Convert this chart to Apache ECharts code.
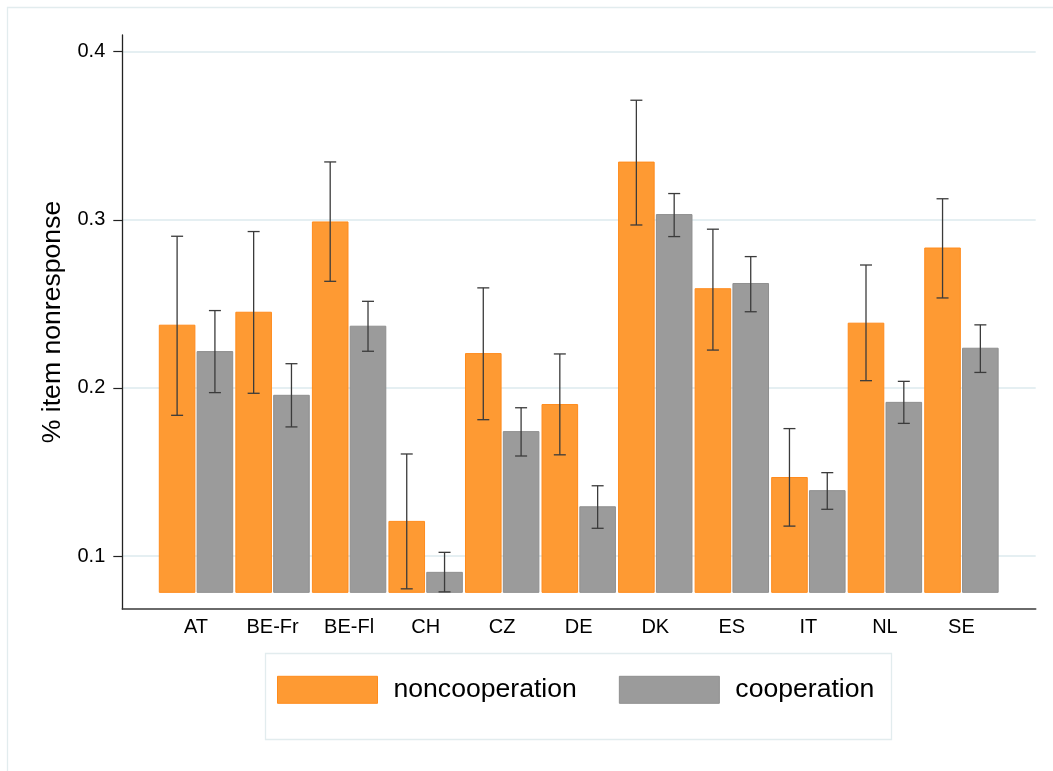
<!DOCTYPE html>
<html>
<head>
<meta charset="utf-8">
<title>Item nonresponse by country</title>
<script src="https://cdn.jsdelivr.net/npm/echarts@6/dist/echarts.min.js"></script>
<style>
  html, body { margin: 0; padding: 0; background: #fff; }
  #chart { width: 1053px; height: 771px; }
</style>
</head>
<body>
<div id="chart"></div>
<script>
// Country groups
const categories = ['AT', 'BE-Fr', 'BE-Fl', 'CH', 'CZ', 'DE', 'DK', 'ES', 'IT', 'NL', 'SE'];

// Share of item nonresponse, noncooperation group (mean, lower and upper CI)
const noncoopMean = [0.2373, 0.2450, 0.2987, 0.1206, 0.2204, 0.1901, 0.3343, 0.2590, 0.1467, 0.2385, 0.2832];
const noncoopLow  = [0.1837, 0.1968, 0.2634, 0.0805, 0.1811, 0.1602, 0.2969, 0.2225, 0.1178, 0.2043, 0.2535];
const noncoopHigh = [0.2902, 0.2930, 0.3344, 0.1607, 0.2595, 0.2202, 0.3711, 0.2944, 0.1758, 0.2731, 0.3125];

// Share of item nonresponse, cooperation group (mean, lower and upper CI)
const coopMean = [0.2216, 0.1956, 0.2367, 0.0903, 0.1740, 0.1293, 0.3031, 0.2621, 0.1389, 0.1914, 0.2236];
const coopLow  = [0.1972, 0.1768, 0.2218, 0.0787, 0.1595, 0.1165, 0.2900, 0.2453, 0.1278, 0.1789, 0.2092];
const coopHigh = [0.2460, 0.2144, 0.2515, 0.1022, 0.1882, 0.1418, 0.3156, 0.2781, 0.1496, 0.2039, 0.2375];

// Value axis ticks
const yTicks = [0.1, 0.2, 0.3, 0.4];

// Layout constants
const Y_MIN = 0.0685, Y_MAX = 0.4099, BAR_BASE = 0.0784;
const X_MIN = -0.963, X_MAX = 10.97;
const BAR_OFFSET = 0.247, BAR_WIDTH = 0.465, CAP_HALF = 6;
const FONT = '"Liberation Sans", Arial, Helvetica, sans-serif';

const ORANGE = { fill: '#fe9a33', stroke: '#ff8b1c' };
const GRAY = { fill: '#9b9b9b', stroke: '#8f8f8f' };

function rows(mean, low, high) {
  return categories.map((c, i) => [i, mean[i], low[i], high[i]]);
}

function barWithError(offset, colors) {
  return function (params, api) {
    const i = api.value(0);
    const v = api.value(1), lo = api.value(2), hi = api.value(3);
    const unit = api.size([1, 0])[0];
    const cx = api.coord([i + offset, v])[0];
    const w = unit * BAR_WIDTH;
    const yTop = api.coord([i, v])[1];
    const yBase = api.coord([i, BAR_BASE])[1];
    const yLo = api.coord([i, lo])[1];
    const yHi = api.coord([i, hi])[1];
    const err = { stroke: '#3b3b3b', lineWidth: 1.3 };
    return {
      type: 'group',
      children: [
        { type: 'rect', shape: { x: cx - w / 2, y: yTop, width: w, height: yBase - yTop },
          style: { fill: colors.fill, stroke: colors.stroke, lineWidth: 1 } },
        { type: 'line', shape: { x1: cx, y1: yHi, x2: cx, y2: yLo }, style: err },
        { type: 'line', shape: { x1: cx - CAP_HALF, y1: yHi, x2: cx + CAP_HALF, y2: yHi }, style: err },
        { type: 'line', shape: { x1: cx - CAP_HALF, y1: yLo, x2: cx + CAP_HALF, y2: yLo }, style: err }
      ]
    };
  };
}

const chart = echarts.init(document.getElementById('chart'), null, { renderer: 'canvas' });

chart.setOption({
  backgroundColor: '#ffffff',
  animation: false,
  textStyle: { fontFamily: FONT },
  graphic: [
    // outer graph region frame
    { type: 'rect', z: -10, silent: true,
      shape: { x: 7.5, y: 7.5, width: 1100, height: 800 },
      style: { fill: 'none', stroke: '#e2ecee', lineWidth: 1.3 } },
    // legend frame
    { type: 'rect', z: -10, silent: true,
      shape: { x: 265.5, y: 653.5, width: 626, height: 86 },
      style: { fill: '#ffffff', stroke: '#e2ecee', lineWidth: 1.3 } }
  ],
  grid: {
    left: 122.3, right: 17.3, top: 35, bottom: 162,
    containLabel: false, outerBoundsMode: 'none'
  },
  legend: {
    left: 277, top: 673.3, padding: 0,
    itemWidth: 100, itemHeight: 27, itemGap: 42,
    icon: 'rect',
    textStyle: { fontSize: 26.6, color: '#000', fontFamily: FONT, padding: [6, 0, 0, 11], lineHeight: 27 },
    data: [
      { name: 'noncooperation', itemStyle: { color: ORANGE.fill, borderColor: ORANGE.stroke, borderWidth: 1 } },
      { name: 'cooperation', itemStyle: { color: GRAY.fill, borderColor: GRAY.stroke, borderWidth: 1 } }
    ]
  },
  xAxis: {
    type: 'value', min: X_MIN, max: X_MAX,
    axisLine: { show: true, onZero: false, lineStyle: { color: '#3a3a3a', width: 1.6 } },
    axisTick: { show: false },
    splitLine: { show: false },
    axisLabel: {
      customValues: categories.map((c, i) => i),
      formatter: v => categories[Math.round(v)] || '',
      fontSize: 20, color: '#000', margin: 8, fontFamily: FONT
    }
  },
  yAxis: {
    type: 'value', min: Y_MIN, max: Y_MAX,
    name: '% item nonresponse', nameLocation: 'middle', nameGap: 56,
    nameTextStyle: { fontSize: 26.6, color: '#000', fontFamily: FONT },
    axisLine: { show: true, onZero: false, lineStyle: { color: '#222', width: 1.3 } },
    axisTick: { show: true, length: 9, customValues: yTicks, lineStyle: { color: '#222', width: 1.2 } },
    axisLabel: {
      customValues: yTicks,
      formatter: v => v.toFixed(1),
      fontSize: 20, color: '#000', margin: 17, fontFamily: FONT
    },
    splitLine: { show: true, lineStyle: { color: '#e5eff2', width: 2 } }
  },
  series: [
    {
      name: 'noncooperation', type: 'custom',
      itemStyle: { color: ORANGE.fill },
      encode: { x: 0, y: 1 },
      data: rows(noncoopMean, noncoopLow, noncoopHigh),
      renderItem: barWithError(-BAR_OFFSET, ORANGE)
    },
    {
      name: 'cooperation', type: 'custom',
      itemStyle: { color: GRAY.fill },
      encode: { x: 0, y: 1 },
      data: rows(coopMean, coopLow, coopHigh),
      renderItem: barWithError(BAR_OFFSET, GRAY)
    }
  ]
});
</script>
</body>
</html>
